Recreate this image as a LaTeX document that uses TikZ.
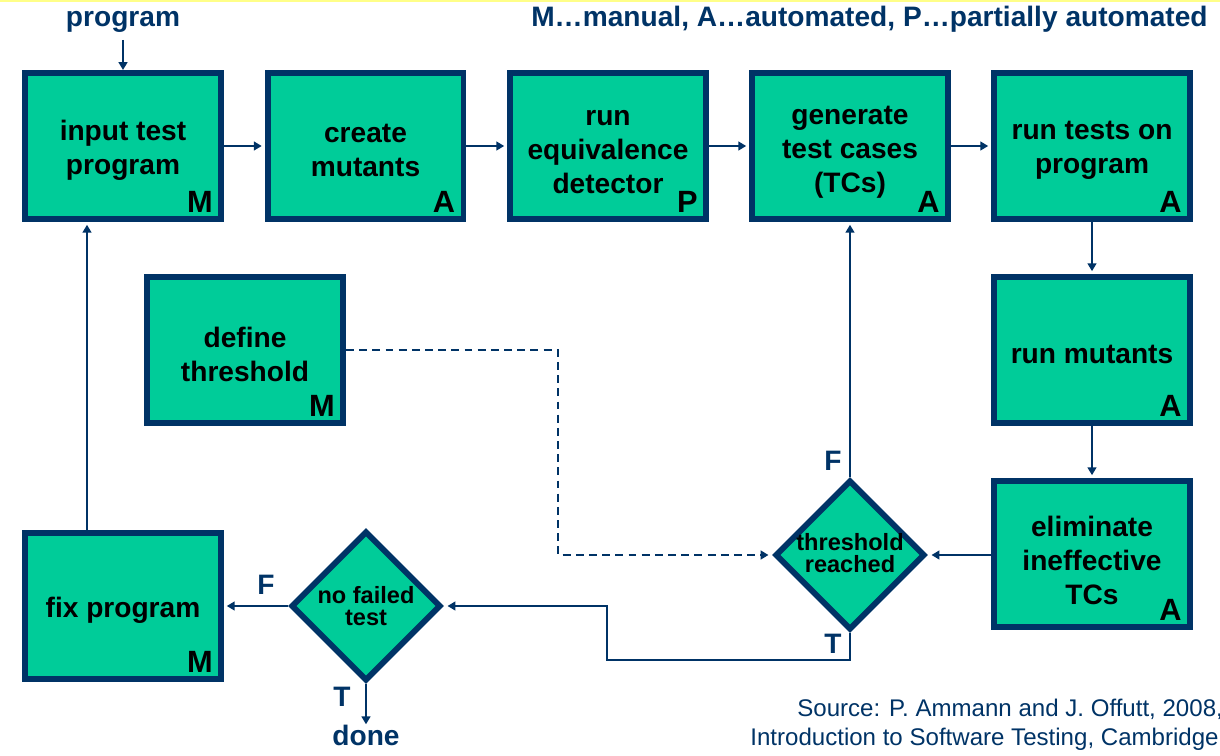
\documentclass[tikz,border=0pt]{standalone}
\usepackage{fontspec}
\setmainfont{Liberation Sans}
\usetikzlibrary{arrows.meta,shapes.geometric,calc}
\definecolor{navy}{RGB}{0,51,102}
\definecolor{mgreen}{RGB}{0,204,153}
\definecolor{topyellow}{RGB}{255,255,136}
\tikzset{
  stepbox/.style={draw=navy,fill=mgreen,line width=3.4pt,minimum width=3.92cm,minimum height=2.92cm,inner sep=0pt},
  boxtext/.style={align=center,font=\fontsize{16}{19.3}\selectfont\bfseries,inner sep=0pt,yshift=-2.4pt},
  decbox/.style={draw=navy,fill=mgreen,line width=3.4pt,diamond,aspect=1,minimum width=3.0cm,minimum height=3.0cm,inner sep=0pt},
  dectext/.style={align=center,font=\fontsize{13.4}{12.5}\selectfont\bfseries,inner sep=0pt},
  kind/.style={anchor=base east,font=\fontsize{17.5}{19}\selectfont\bfseries,inner sep=0pt},
  navytext/.style={text=navy,font=\fontsize{16}{19}\selectfont\bfseries,inner sep=0pt},
  srctext/.style={text=navy,font=\fontsize{13.7}{16}\selectfont,inner sep=0pt,anchor=base west},
  arr/.style={draw=navy,line width=1.1pt,-{Triangle[length=4.5pt,width=5pt]}},
}
\begin{document}
\begin{tikzpicture}[x=0.02cm,y=-0.02cm]
\useasboundingbox (0,0) rectangle (1220,756);
\fill[topyellow] (0,0) rectangle (1220,2.5);
% header
\node[navytext,anchor=base] (hprog) at (123,27) {program};
\node[navytext,anchor=base east] (legend) at (1208,27) {M…manual, A…automated, P…partially automated};
% boxes
\node[stepbox,label={[boxtext]center:{input test\\program}}] (b1) at (123,146) {};
\node[stepbox,label={[boxtext]center:{create\\mutants}}] (b2) at (365.5,146) {};
\node[stepbox,label={[boxtext,yshift=-1.2pt]center:{run\\equivalence\\detector}}] (b3) at (608,146) {};
\node[stepbox,label={[boxtext,yshift=-1.2pt]center:{generate\\test cases\\(TCs)}}] (b4) at (850,146) {};
\node[stepbox,label={[boxtext]center:{run tests on\\program}}] (b5) at (1092,146) {};
\node[stepbox,label={[boxtext]center:{run mutants}}] (b6) at (1092,350) {};
\node[stepbox,label={[boxtext,yshift=-1.2pt]center:{eliminate\\ineffective\\TCs}}] (b7) at (1092,554) {};
\node[stepbox,label={[boxtext]center:{define\\threshold}}] (b8) at (245,350) {};
\node[stepbox,label={[boxtext]center:{fix program}}] (b9) at (123,606) {};
% kind letters
\node[kind] (k1) at ($(b1.south east)+(-11,-9)$) {M};
\node[kind] (k2) at ($(b2.south east)+(-11,-9)$) {A};
\node[kind] (k3) at ($(b3.south east)+(-11,-9)$) {P};
\node[kind] (k4) at ($(b4.south east)+(-11,-9)$) {A};
\node[kind] (k5) at ($(b5.south east)+(-11,-9)$) {A};
\node[kind] (k6) at ($(b6.south east)+(-11,-9)$) {A};
\node[kind] (k7) at ($(b7.south east)+(-11,-9)$) {A};
\node[kind] (k8) at ($(b8.south east)+(-11,-9)$) {M};
\node[kind] (k9) at ($(b9.south east)+(-11,-9)$) {M};
% diamonds
\node[decbox] (d1) at (850,555) {};
\node[dectext] (d1t) at (850,553) {threshold\\reached};
\node[decbox] (d2) at (366,606) {};
\node[dectext] (d2t) at (366,606) {no failed\\test};
% labels
\node[navytext] (f1) at (833,461) {F};
\node[navytext] (t1) at (833,644) {T};
\node[navytext] (f2) at (266,585) {F};
\node[navytext] (t2) at (342,697) {T};
\node[navytext] (done) at (366,735) {done};
% coordinates
\coordinate (c1) at (607,660);
\coordinate (c2) at (558,555);
\coordinate (c3) at (87,0);
\coordinate (c4) at (123,40);
% connectors
\draw[arr] (c4) -- (b1.north);
\draw[arr,shorten >=1.6pt] (b1) -- (b2);
\draw[arr,shorten >=1.6pt] (b2) -- (b3);
\draw[arr,shorten >=1.6pt] (b3) -- (b4);
\draw[arr,shorten >=1.6pt] (b4) -- (b5);
\draw[arr,shorten >=1.6pt] (b5) -- (b6);
\draw[arr,shorten >=1.6pt] (b6) -- (b7);
\draw[arr,shorten >=2pt] (b7.west |- d1.east) -- (d1.east);
\draw[arr,shorten >=1.6pt] (d1.north) -- (b4.south);
\draw[arr,shorten >=2pt] (d1.south) |- (c1) |- (d2.east);
\draw[arr,dash pattern=on 4.5pt off 3pt,shorten >=2pt] (b8.east) -| (c2) -- (d1.west);
\draw[arr,shorten >=1.6pt] (d2.west) -- (b9.east);
\draw[arr] (d2.south) -- (done.north);
\draw[arr,shorten >=1.6pt] (b9.north -| c3) -- (b1.south -| c3);
% source
\node[srctext] (src1) at (797,716) {Source: P. Ammann and J. Offutt, 2008,};
\node[srctext] (src2) at (750,745) {Introduction to Software Testing, Cambridge};
\end{tikzpicture}
\end{document}
